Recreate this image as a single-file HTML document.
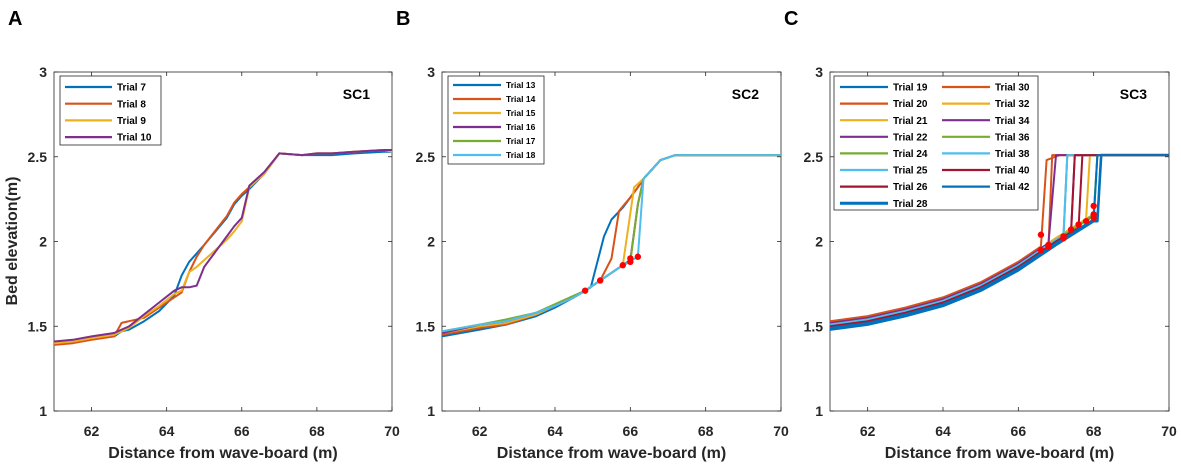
<!DOCTYPE html>
<html><head><meta charset="utf-8"><style>
body{margin:0;background:#fff;}
svg text{font-family:"Liberation Sans",Arial,sans-serif;}
</style></head><body>
<svg id="fig" width="1181" height="465" viewBox="0 0 1181 465" xmlns="http://www.w3.org/2000/svg"></svg>
<script>
const C={blue:'#0072BD',orange:'#D95319',yellow:'#EDB120',purple:'#7E2F8E',green:'#77AC30',cyan:'#4DBEEE',red:'#A2142F'};
const xTicks=[62,64,66,68,70];
const yTicks=[1,1.5,2,2.5,3];
const yTickLabels=['1','1.5','2','2.5','3'];
// Panel A
const aX=[61,61.5,62,62.6,62.8,63,63.4,63.8,64.2,64.4,64.6,64.8,65,65.6,65.8,66,66.2,66.6,67,67.6,68,68.4,69,69.8,70];
const aNames=['Trial 7','Trial 8','Trial 9','Trial 10'];
const aT7=[1.40,1.41,1.43,1.44,1.47,1.48,1.53,1.59,1.68,1.80,1.88,1.93,1.98,2.14,2.22,2.27,2.31,2.40,2.52,2.51,2.51,2.51,2.52,2.53,2.53];
const aT8=[1.39,1.40,1.42,1.44,1.52,1.53,1.55,1.61,1.67,1.70,1.82,1.91,1.98,2.15,2.23,2.28,2.32,2.40,2.52,2.51,2.52,2.52,2.53,2.54,2.54];
const aT9=[1.40,1.41,1.43,1.45,1.47,1.49,1.56,1.62,1.69,1.71,1.82,1.85,1.89,2.01,2.06,2.12,2.32,2.40,2.52,2.51,2.52,2.52,2.53,2.54,2.53];
const aT10=[1.41,1.42,1.44,1.46,1.48,1.50,1.57,1.64,1.71,1.73,1.73,1.74,1.85,2.03,2.09,2.14,2.33,2.41,2.52,2.51,2.52,2.52,2.53,2.54,2.54];
// Panel B
const bNames=['Trial 13','Trial 14','Trial 15','Trial 16','Trial 17','Trial 18'];
const bX13=[61,62,62.7,63.5,64,64.5,64.95,65.3,65.5,65.8,66.2,66.35,66.8,67.2,68,70];
const bY13=[1.44,1.48,1.51,1.56,1.61,1.67,1.73,2.03,2.13,2.20,2.32,2.37,2.48,2.51,2.51,2.51];
const bX14=[61,62,62.7,63.5,64,64.5,64.8,65.2,65.5,65.7,66,66.2,66.35,66.8,67.2,68,70];
const bY14=[1.45,1.49,1.51,1.57,1.62,1.67,1.71,1.77,1.90,2.18,2.26,2.32,2.37,2.48,2.51,2.51,2.51];
const bX15=[61,62,62.7,63.5,64,64.5,64.8,65.2,65.8,66.1,66.35,66.8,67.2,68,70];
const bY15=[1.46,1.50,1.52,1.57,1.62,1.67,1.71,1.77,1.86,2.32,2.37,2.48,2.51,2.51,2.51];
const bX16=[61,62,62.7,63.5,64,64.5,64.8,65.2,65.8,66,66.2,66.35,66.8,67.2,68,70];
const bY16=[1.46,1.51,1.53,1.58,1.62,1.67,1.71,1.77,1.86,1.89,2.22,2.37,2.48,2.51,2.51,2.51];
const bX17=[61,62,62.7,63.5,64,64.5,64.8,65.2,65.8,66,66.2,66.35,66.8,67.2,68,70];
const bY17=[1.47,1.51,1.54,1.58,1.63,1.68,1.71,1.77,1.86,1.88,2.22,2.37,2.48,2.51,2.51,2.51];
const bX18=[61,62,62.7,63.5,64,64.5,64.8,65.2,65.8,66.2,66.35,66.8,67.2,68,70];
const bY18=[1.47,1.51,1.53,1.58,1.62,1.67,1.71,1.77,1.86,1.91,2.37,2.48,2.51,2.51,2.51];
const bDotX=[64.8,65.2,65.8,66.0,66.0,66.2];
const bDotY=[1.71,1.77,1.86,1.88,1.90,1.91];
// Panel C
const cNames=['Trial 19','Trial 20','Trial 21','Trial 22','Trial 24','Trial 25','Trial 26','Trial 28','Trial 30','Trial 32','Trial 34','Trial 36','Trial 38','Trial 40','Trial 42'];
const cBaseX=[61,62,63,64,65,66,66.6,67,67.5,68];
const cBaseY=[1.49,1.52,1.57,1.63,1.72,1.84,1.93,1.99,2.06,2.13];
const cOffset=[0.00,0.01,0.02,0.02,0.03,0.01,0.01,-0.01,0.04,0.03,0.03,0.02,0.02,0.01,0.00];
const cCutX=[68.1,66.8,67.2,67.4,68.0,67.2,67.6,68.1,66.6,67.8,66.8,68.0,67.2,67.4,68.0];
const cTopX=[68.2,66.9,67.3,67.5,68.1,67.3,67.7,68.2,66.75,67.9,67.0,68.1,67.3,67.5,68.1];
const cDotX=[66.6,66.6,66.8,66.8,67.2,67.2,67.4,67.6,67.8,68,68,68];
const cDotY=[2.04,1.95,1.97,1.98,2.02,2.03,2.07,2.10,2.12,2.21,2.16,2.14];
const NS='http://www.w3.org/2000/svg';
const svg=document.getElementById('fig');
function mk(t,a,p){const e=document.createElementNS(NS,t);for(const k in a)e.setAttribute(k,a[k]);(p||svg).appendChild(e);return e;}
function panel(L,R,T,B,label,letter){
  const sx=v=>L+(v-61)/9*(R-L), sy=v=>B-(v-1)/2*(B-T);
  const g=mk('g',{});
  
  
  const box=mk('rect',{x:L,y:T,width:R-L,height:B-T,fill:'#fff',stroke:'#262626','stroke-width':0.8},g);
  
  xTicks.forEach(v=>{const x=sx(v);
    mk('line',{x1:x,x2:x,y1:B,y2:B-4,stroke:'#262626','stroke-width':0.8},g);
    mk('line',{x1:x,x2:x,y1:T,y2:T+4,stroke:'#262626','stroke-width':0.8},g);
    const t=mk('text',{x:x,y:B+25,'text-anchor':'middle','font-size':14,'font-weight':'bold',fill:'#262626'},g);t.textContent=v;
    });
  yTicks.forEach((v,i)=>{const y=sy(v);
    mk('line',{x1:L,x2:L+4,y1:y,y2:y,stroke:'#262626','stroke-width':0.8},g);
    mk('line',{x1:R,x2:R-4,y1:y,y2:y,stroke:'#262626','stroke-width':0.8},g);
    const t=mk('text',{x:L-7,y:y+5,'text-anchor':'end','font-size':14,'font-weight':'bold',fill:'#262626'},g);t.textContent=yTickLabels[i];
    });
  const xt=mk('text',{x:(L+R)/2,y:B+47,'text-anchor':'middle','font-size':16,'font-weight':'bold',fill:'#262626'},g);
  xt.textContent='Distance from wave-board (m)';
  const sc=mk('text',{x:R-22,y:T+27,'text-anchor':'end','font-size':14,'font-weight':'bold',fill:'#000'},g);
  sc.textContent=label;
  const lt=mk('text',{x:L-46,y:T-47,'font-size':20,'font-weight':'bold',fill:'#000'},g);
  lt.textContent=letter;
  return {g,sx,sy};
}
function line(p,xs,ys,col,w,name){
  const d=xs.map((x,i)=>(i?'L':'M')+p.sx(x).toFixed(1)+' '+p.sy(ys[i]).toFixed(1)).join('');
  const e=mk('path',{d:d,fill:'none',stroke:col,'stroke-width':w,'stroke-linejoin':'round'},p.g);
  
}
function dots(p,xs,ys){xs.forEach((x,i)=>{const c=mk('circle',{cx:p.sx(x),cy:p.sy(ys[i]),r:3.2,fill:'#FF0000'},p.g);
  });}
function legend(p,x,y,w,h,rows,dy,lineLen,fs){
  const r=mk('rect',{x:x,y:y,width:w,height:h,fill:'#fff',stroke:'#262626','stroke-width':0.8},p.g);
  
  rows.forEach(([cx,cy,name,col,wd])=>{
    const ln=mk('line',{x1:cx,x2:cx+lineLen,y1:cy,y2:cy,stroke:col,'stroke-width':wd||2},p.g);
    
    const t=mk('text',{x:cx+lineLen+5,y:cy+fs*0.36,'font-size':fs,'font-weight':'bold',fill:'#000'},p.g);
    t.textContent=name;});
}
const yt=mk('text',{x:0,y:0,'text-anchor':'middle','font-size':16,'font-weight':'bold',fill:'#262626',transform:'translate(17,241) rotate(-90)'});
yt.textContent='Bed elevation(m)';
const pA=panel(54,392,72,411,'SC1','A');
const aCols=[C.blue,C.orange,C.yellow,C.purple];
[aT7,aT8,aT9,aT10].forEach((ys,i)=>line(pA,aX,ys,aCols[i],2,'line-'+aNames[i].toLowerCase().replace(' ','-')));
legend(pA,60,76,101,69,aNames.map((n,i)=>[65,87+i*16.7,n,aCols[i],2.2]),16.7,47,10);
const pB=panel(442,781,72,411,'SC2','B');
const bCols=[C.blue,C.orange,C.yellow,C.purple,C.green,C.cyan];
[[bX13,bY13],[bX14,bY14],[bX15,bY15],[bX16,bY16],[bX17,bY17],[bX18,bY18]].forEach((s,i)=>line(pB,s[0],s[1],bCols[i],2,'line-'+bNames[i].toLowerCase().replace(' ','-')));
dots(pB,bDotX,bDotY);
legend(pB,448,76,96,88,bNames.map((n,i)=>[453,85+i*14,n,bCols[i],2.2]),14,48,8.5);
const pC=panel(830,1169,72,411,'SC3','C');
const cCols=[C.blue,C.orange,C.yellow,C.purple,C.green,C.cyan,C.red,C.blue,C.orange,C.yellow,C.purple,C.green,C.cyan,C.red,C.blue];
cNames.forEach((n,i)=>{
  const xs=[],ys=[];
  cBaseX.forEach((x,j)=>{if(x<cCutX[i]){xs.push(x);ys.push(cBaseY[j]+cOffset[i]);}});
  let k=0;while(k<cBaseX.length-1&&cBaseX[k+1]<cCutX[i])k++;
  const k2=Math.min(k+1,cBaseX.length-1);
  const f=k2===k?0:(cCutX[i]-cBaseX[k])/(cBaseX[k2]-cBaseX[k]);
  xs.push(cCutX[i]);ys.push(cBaseY[k]+f*(cBaseY[k2]-cBaseY[k])+cOffset[i]);
  xs.push(cTopX[i]);ys.push(i===8?2.48:2.51);
  xs.push(67.1>cTopX[i]?67.1:cTopX[i]+0.1);ys.push(2.51);
  xs.push(70);ys.push(2.51);
  line(pC,xs,ys,cCols[i],i===7?2.6:2,'line-'+n.toLowerCase().replace(' ','-'));
});
dots(pC,cDotX,cDotY);
legend(pC,834,76,204,134,cNames.map((n,i)=>i<8?[840,87+i*16.6,n,cCols[i],i===7?3:2.2]:[942,87+(i-8)*16.6,n,cCols[i],2.2]),16.6,48,10);
</script>
</body></html>
